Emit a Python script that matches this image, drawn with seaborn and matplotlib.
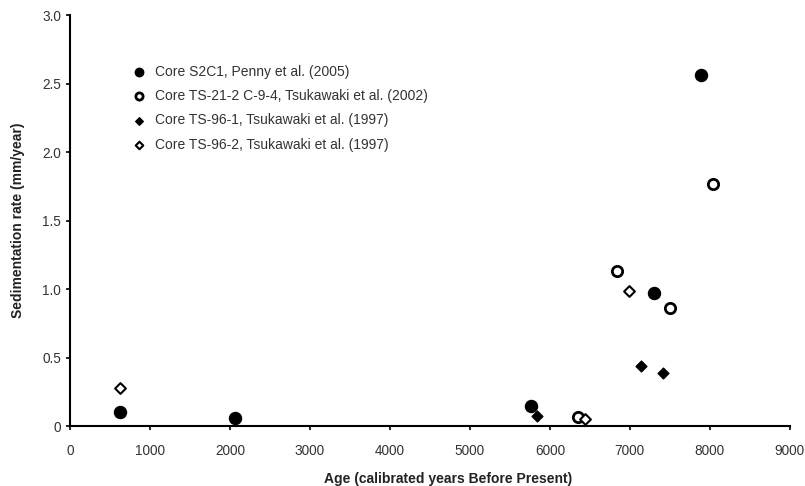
import pandas as pd
import matplotlib
matplotlib.use('Agg')
import matplotlib.pyplot as plt
import seaborn as sns
from matplotlib.ticker import FuncFormatter

# data
s2c1_age = [630, 2060, 5760, 7300, 7895]
s2c1_rate = [0.105, 0.06, 0.15, 0.97, 2.56]

ts212_age = [6350, 6845, 7505, 8040]
ts212_rate = [0.068, 1.13, 0.86, 1.77]

ts961_age = [5840, 7135, 7415]
ts961_rate = [0.075, 0.44, 0.39]

ts962_age = [630, 6435, 6985]
ts962_rate = [0.28, 0.05, 0.99]

labels = ['Core S2C1, Penny et al. (2005)',
          'Core TS-21-2 C-9-4, Tsukawaki et al. (2002)',
          'Core TS-96-1, Tsukawaki et al. (1997)',
          'Core TS-96-2, Tsukawaki et al. (1997)']

x_ticks = [0, 1000, 2000, 3000, 4000, 5000, 6000, 7000, 8000, 9000]
y_ticks = [0, 0.5, 1.0, 1.5, 2.0, 2.5, 3.0]

sns.set_style('ticks')
plt.rcParams['font.family'] = ['Liberation Sans', 'DejaVu Sans']

fig = plt.figure(figsize=(8.05, 4.86), dpi=100)
ax = fig.add_axes([0.087, 0.123, 0.894, 0.846])

series = [
    (s2c1_age, s2c1_rate, 'o', 'black', 75, 1.0),
    (ts212_age, ts212_rate, 'o', 'white', 55, 2.0),
    (ts961_age, ts961_rate, 'D', 'black', 30, 1.0),
    (ts962_age, ts962_rate, 'D', 'white', 30, 1.5),
]
for (xs, ys, m, fc, s, lw), lab in zip(series, labels):
    df = pd.DataFrame({'age': xs, 'rate': ys})
    sns.scatterplot(data=df, x='age', y='rate', ax=ax, marker=m, s=s,
                    color=fc, edgecolor='black', linewidth=lw, label=lab,
                    zorder=3)

ax.set_xlim(0, 9000)
ax.set_ylim(0, 3.0)
ax.set_xticks(x_ticks)
ax.set_yticks(y_ticks)
ax.yaxis.set_major_formatter(FuncFormatter(lambda v, p: '0' if v == 0 else f'{v:.1f}'))
ax.tick_params(axis='both', labelsize=9.8, colors='black', length=3, width=1.2,
               labelcolor='#333333')
ax.tick_params(axis='x', pad=10)
ax.tick_params(axis='y', pad=3.5)
sns.despine(ax=ax)
for sp in ['left', 'bottom']:
    ax.spines[sp].set_linewidth(1.5)
    ax.spines[sp].set_color('black')

ax.set_xlabel('Age (calibrated years Before Present)', fontsize=10,
              fontweight='bold', color='#222222')
ax.set_ylabel('Sedimentation rate (mm/year)', fontsize=10,
              fontweight='bold', color='#222222')
ax.xaxis.set_label_coords(0.525, -0.112)
ax.yaxis.set_label_coords(-0.062, 0.5)

leg = ax.legend(loc='upper left', bbox_to_anchor=(0.069, 0.91), frameon=False,
                fontsize=10, handletextpad=0.65, labelspacing=0.75,
                handlelength=1.0, markerscale=0.7)
for t in leg.get_texts():
    t.set_color('#333333')

fig.savefig('out.png', dpi=100, facecolor='white')
